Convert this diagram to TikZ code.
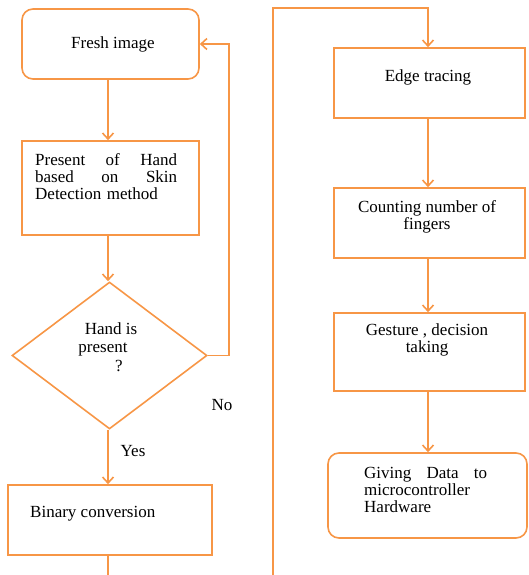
\documentclass[tikz,border=0pt]{standalone}
\usepackage{fontspec}
\setmainfont{Liberation Serif}
\usetikzlibrary{shapes.geometric,arrows.meta}
\definecolor{org}{RGB}{247,150,70}
\begin{document}
\begin{tikzpicture}[x=1pt,y=-1pt,
  font=\fontsize{17}{17}\selectfont,
  box/.style={draw=org,line width=1.6pt,minimum width=#1,inner sep=0pt},
  rbox/.style={box=#1,rounded corners=11pt},
  line/.style={draw=org,line width=1.6pt},
  conn/.style={line,-{Straight Barb[length=6pt,width=11pt]}},
  txt/.style={inner sep=0pt,text=black}]
\useasboundingbox (0,0) rectangle (528,575);
\coordinate (ax) at (108,0);
\coordinate (bx) at (428,0);
\coordinate (fx) at (229,0);
% left column
\node[rbox=177pt,minimum height=70pt] (fresh) at (110.5,44) {};
\node[txt] (freshT) at (113,44) {Fresh image};
\node[box=177pt,minimum height=94pt] (present) at (110.5,188) {};
\node[txt,anchor=west,text width=142pt,align=left] (presentT) at (35,177)
  {Present\hfill of\hfill Hand\\ based\hfill on\hfill Skin\\ Detection\ method};
\node[draw=org,line width=1.6pt,shape=diamond,inner sep=0pt,minimum width=195pt,minimum height=147pt] (dia) at (109.5,355.5) {};
\node[txt] (d1) at (111,329) {Hand is};
\node[txt] (d2) at (103,350) {present};
\node[txt] (d3) at (119,366) {?};
\node[txt] (no) at (222,405) {No};
\node[txt] (yes) at (133,451) {Yes};
\node[box=204pt,minimum height=70pt] (bin) at (110,520) {};
\node[txt,anchor=west] (binT) at (30,514) {Binary conversion};
\coordinate (binEnd) at (108,575);
% right column
\node[box=191pt,minimum height=70pt] (edge) at (429.5,83) {};
\node[txt] (edgeT) at (428,77) {Edge tracing};
\node[box=191pt,minimum height=70pt] (count) at (429.5,223) {};
\node[txt,align=center] (countT) at (427,216.5) {Counting number of\\ fingers};
\node[box=191pt,minimum height=78pt] (gest) at (429.5,352) {};
\node[txt,align=center] (gestT) at (427,339.5) {Gesture , decision\\ taking};
\node[rbox=199pt,minimum height=85pt] (give) at (427.5,495.5) {};
\node[txt,anchor=west,text width=123pt,align=left] (giveT) at (364,490)
  {Giving\hfill Data\hfill to\\ microcontroller\\ Hardware};
\coordinate (rb) at (273,575);
\coordinate (rt) at (273,8);
% connectors
\draw[conn] (fresh.south -| ax) -- (present.north -| ax);
\draw[conn] (present.south -| ax) -- (dia.north -| ax);
\draw[conn] (dia.south -| ax) -- (bin.north -| ax);
\draw[line] (bin.south -| ax) -- (binEnd);
\draw[conn] (dia.east) -- (dia.east -| fx) |- (fresh.east);
\draw[conn] (rb) -- (rt) -| (edge.north -| bx);
\draw[conn] (edge.south -| bx) -- (count.north -| bx);
\draw[conn] (count.south -| bx) -- (gest.north -| bx);
\draw[conn] (gest.south -| bx) -- (give.north -| bx);
\end{tikzpicture}
\end{document}
